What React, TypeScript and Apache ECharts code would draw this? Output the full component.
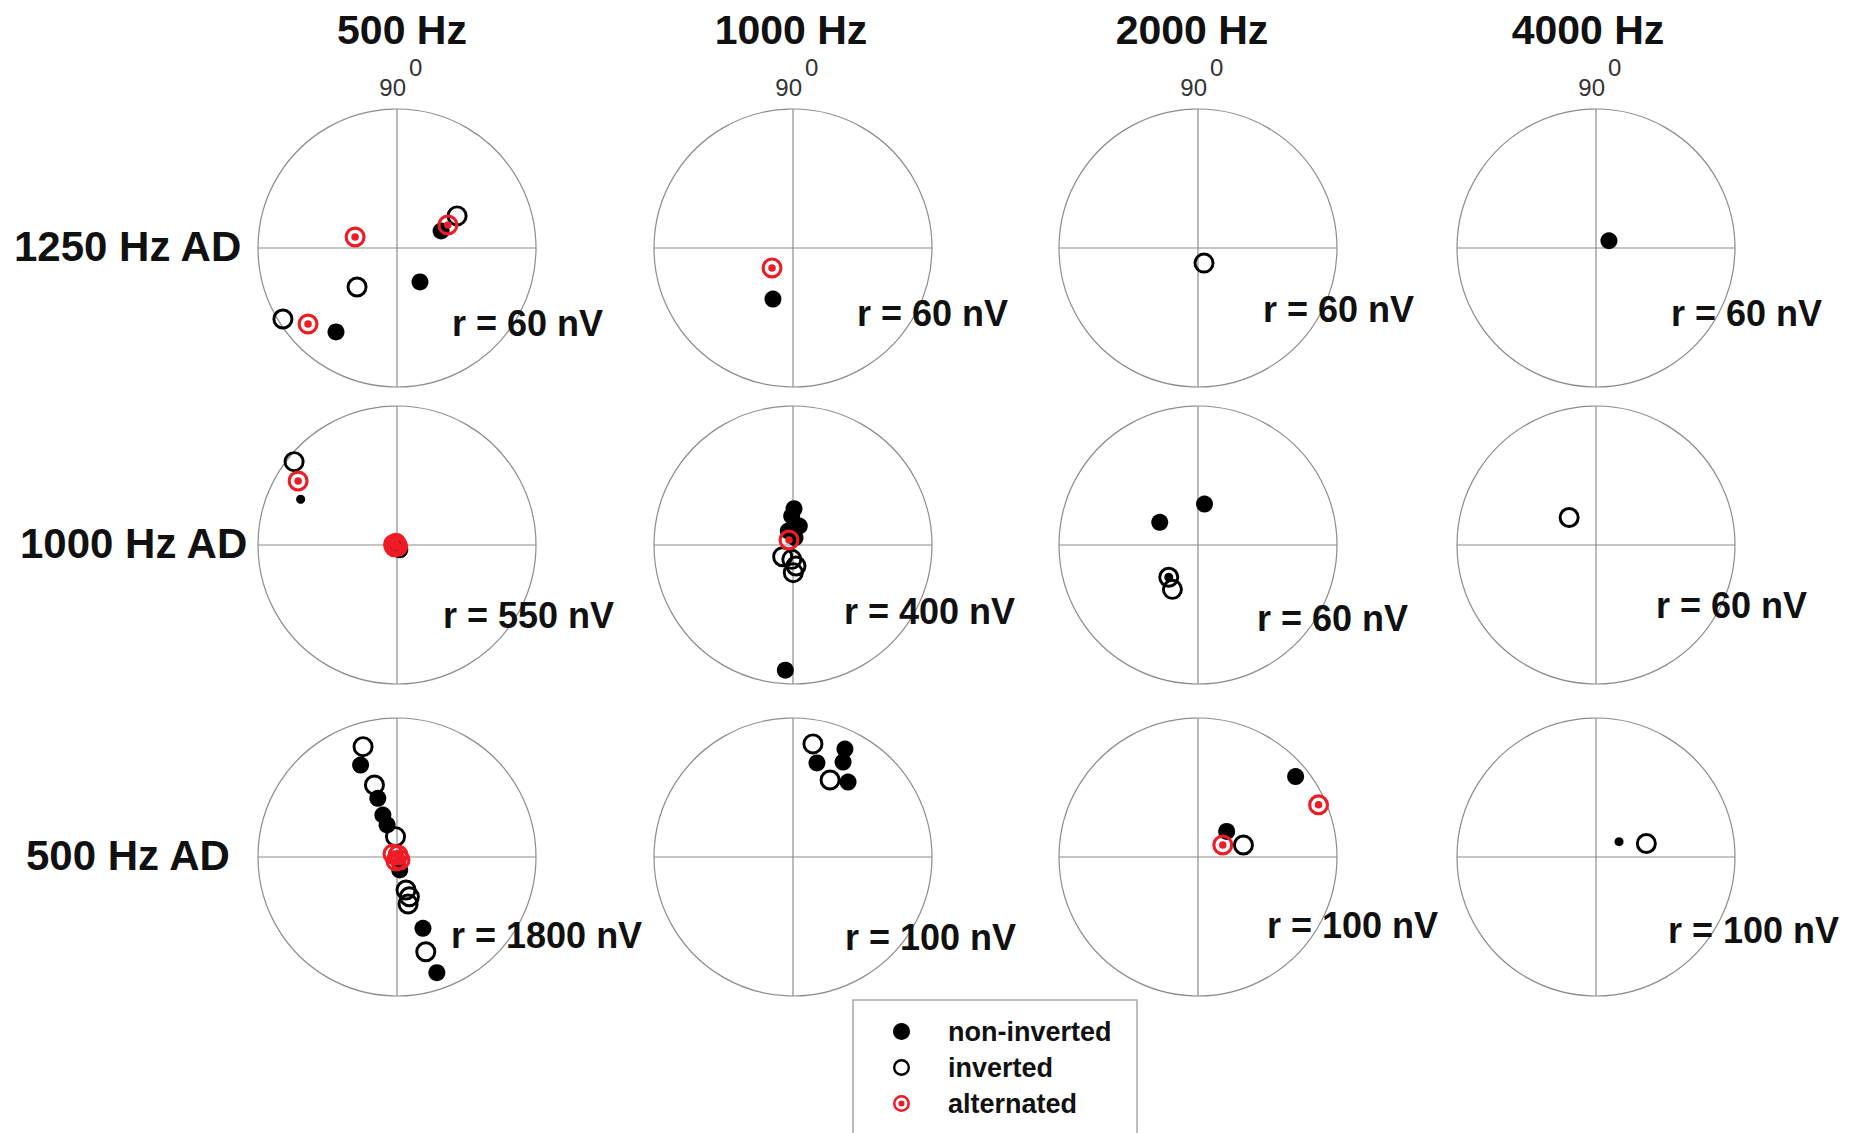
import React, { useEffect, useRef } from 'react';
import * as echarts from 'echarts';

// ---------------- DATA ----------------
const columnLabels = ['500 Hz', '1000 Hz', '2000 Hz', '4000 Hz'];
const rowLabels = ['1250 Hz AD', '1000 Hz AD', '500 Hz AD'];
const angleTickLabel = '90';
const angleTickSup = '0';
// full-scale radius of each panel (nV), row by row
const radiusMaxNV = [60, 60, 60, 60, 550, 400, 60, 60, 1800, 100, 100, 100];
const legendNames = ['non-inverted', 'inverted', 'alternated'];

// points as [amplitude nV, phase deg], one list per panel (row-major)
const nonInverted: number[][][] = [
  [[20.4, 21.1], [17.7, 304.1], [44.8, 234.0]],
  [[23.7, 248.6]],
  [],
  [[6.4, 29.3]],
  [[22, 300], [14, 270]],
  [[104.5, 88.4], [83.5, 92.6], [57.6, 71.7], [42.5, 108.6], [21.8, 74.7], [361, 266.5]],
  [[17.9, 81.0], [19.2, 149.3]],
  [],
  [[1281, 111.6], [800, 108.1], [574, 108.6], [434, 107.2], [172, 281.7], [983, 290.0], [1585, 289.0]],
  [[86.2, 64.3], [77.2, 62.2], [69.8, 75.7], [66.9, 53.7]],
  [[91.0, 39.5], [27.6, 41.7]],
  [],
];
const nonInvertedSmall: number[][][] = [
  [], [], [], [],
  [[422, 154.6]], [], [[18.8, 227.8]], [],
  [], [], [], [[19.9, 33.6]],
];
const inverted: number[][][] = [
  [[29.4, 28.1], [24.1, 224.3], [58.0, 211.9]],
  [],
  [[7.0, 291.8]],
  [],
  [[524, 141.0], [8, 225]],
  [[44.9, 228.6], [41.4, 265.2], [61.0, 278.1], [79.7, 270.6]],
  [[18.8, 227.8], [22.1, 240.0]],
  [[16.6, 134.3]],
  [[1495, 107.1], [977, 107.4], [264, 94.2], [443, 285.3], [539, 287.3], [625, 283.3], [1282, 286.9]],
  [[82.6, 80.0], [61.5, 64.3]],
  [[33.8, 14.8]],
  [[37.5, 15.0]],
];
const alternated: number[][][] = [
  [[24.1, 24.3], [18.7, 165.3], [50.5, 220.5]],
  [[12.5, 223.6]],
  [],
  [],
  [[466, 147.1], [14, 170], [12, 215], [8, 120], [6, 300]],
  [[18.4, 128.7]],
  [],
  [],
  [[65, 143], [55, 315], [29, 63], [53, 256]],
  [],
  [[94.5, 23.4], [19.8, 25.8]],
  [],
];

// ---------------- LAYOUT ----------------
const COL_X = [397, 793, 1198, 1596];
const ROW_Y = [248, 545, 857];
const PANEL_R = 139;
const R_LABEL_OFFSET = [
  [55, 75], [64, 65], [65, 61], [75, 65],
  [46, 70], [51, 66], [59, 73], [60, 60],
  [54, 78], [52, 80], [69, 68], [72, 73],
];
const ROW_LABEL_X = [14, 20, 26];
const FONT = '"Liberation Sans", Arial, Helvetica, sans-serif';
const GRID_COLOR = '#8c8c8c';
const RED = '#ee1c25';

const RING_PATH =
  'path://M0,50A50,50 0 1,1 100,50A50,50 0 1,1 0,50Z M14,50A36,36 0 1,0 86,50A36,36 0 1,0 14,50Z';
const ALT_PATH =
  'path://M0,50A50,50 0 1,1 100,50A50,50 0 1,1 0,50Z M15,50A35,35 0 1,0 85,50A35,35 0 1,0 15,50Z M32,50A18,18 0 1,1 68,50A18,18 0 1,1 32,50Z';

function text(x: number, y: number, t: string, size: number, weight: string, align: string, color = '#111') {
  return {
    type: 'text',
    x,
    y,
    z: 10,
    silent: true,
    style: {
      text: t,
      fontSize: size,
      fontWeight: weight,
      fontFamily: FONT,
      fill: color,
      align,
      verticalAlign: 'middle',
      textAlign: align,
      textVerticalAlign: 'middle',
    },
  };
}

function buildOption() {
  const polar: any[] = [];
  const angleAxis: any[] = [];
  const radiusAxis: any[] = [];
  const series: any[] = [];
  const graphics: any[] = [];

  for (let p = 0; p < 12; p++) {
    const row = Math.floor(p / 4);
    const col = p % 4;
    const cx = COL_X[col];
    const cy = ROW_Y[row];
    polar.push({ center: [cx, cy], radius: PANEL_R });
    angleAxis.push({
      polarIndex: p,
      type: 'value',
      min: 0,
      max: 360,
      interval: 90,
      startAngle: 0,
      clockwise: false,
      axisLine: { show: true, lineStyle: { color: GRID_COLOR, width: 1.2 } },
      axisTick: { show: false },
      axisLabel: { show: false },
      splitLine: { show: true, lineStyle: { color: GRID_COLOR, width: 1.2 } },
    });
    radiusAxis.push({
      polarIndex: p,
      type: 'value',
      min: 0,
      max: radiusMaxNV[p],
      axisLine: { show: false },
      axisTick: { show: false },
      axisLabel: { show: false },
      splitLine: { show: false },
    });
    const common = { type: 'scatter', coordinateSystem: 'polar', polarIndex: p, silent: true, symbolKeepAspect: true };
    series.push({ ...common, name: legendNames[0], symbol: 'circle', symbolSize: 17, itemStyle: { color: '#000', opacity: 1 }, data: nonInverted[p] });
    series.push({ ...common, name: legendNames[0], symbol: 'circle', symbolSize: 9, itemStyle: { color: '#000', opacity: 1 }, data: nonInvertedSmall[p] });
    series.push({ ...common, name: legendNames[1], symbol: RING_PATH, symbolSize: 21, itemStyle: { color: '#000', opacity: 1 }, data: inverted[p] });
    series.push({ ...common, name: legendNames[2], symbol: ALT_PATH, symbolSize: 21, itemStyle: { color: RED, opacity: 1 }, data: alternated[p] });

    graphics.push(
      text(cx + R_LABEL_OFFSET[p][0], cy + R_LABEL_OFFSET[p][1], `r = ${radiusMaxNV[p]} nV`, 36, 'bold', 'left')
    );
  }

  const headerX = [402, 791, 1192, 1588];
  columnLabels.forEach((c, i) => {
    graphics.push(text(headerX[i], 30, c, 41, 'bold', 'center'));
    graphics.push(text(COL_X[i] + 9, 87, angleTickLabel, 24, 'normal', 'right', '#333'));
    graphics.push(text(COL_X[i] + 12, 67, angleTickSup, 24, 'normal', 'left', '#333'));
  });
  rowLabels.forEach((r, i) => {
    graphics.push(text(ROW_LABEL_X[i], ROW_Y[i] - 2, r, 42, 'bold', 'left'));
  });
  graphics.push({
    type: 'rect',
    silent: true,
    shape: { x: 853, y: 1000, width: 284, height: 200 },
    style: { fill: 'none', stroke: '#a8a8a8', lineWidth: 1.5 },
  });

  return {
    animation: false,
    backgroundColor: '#ffffff',
    polar,
    angleAxis,
    radiusAxis,
    legend: {
      orient: 'vertical',
      left: 888,
      top: 1013,
      itemWidth: 17,
      itemHeight: 17,
      itemGap: 9,
      selectedMode: false,
      data: legendNames,
      textStyle: { fontFamily: FONT, fontSize: 27, fontWeight: 'bold', color: '#111', padding: [0, 0, 0, 33] },
    },
    series,
    graphic: { elements: graphics },
  };
}

export default function App() {
  const ref = useRef<HTMLDivElement>(null);
  useEffect(() => {
    if (!ref.current) return;
    const chart = echarts.init(ref.current, undefined, { renderer: 'svg' });
    chart.setOption(buildOption() as any);
    return () => chart.dispose();
  }, []);
  return (
    <div
      ref={ref}
      style={{ position: 'absolute', left: 0, top: 0, width: 1864, height: 1133, background: '#fff' }}
    />
  );
}
